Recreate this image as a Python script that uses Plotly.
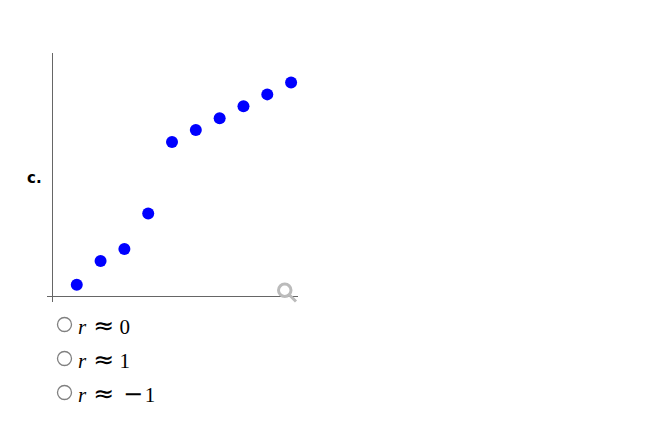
import plotly.graph_objects as go

x_vals = [1, 2, 3, 4, 5, 6, 7, 8, 9, 10]
y_vals = [1, 3, 4, 7, 13, 14, 15, 16, 17, 18]

# the approx sign and the minus come out too narrow in the serif font
approx = '<span style="font-family:DejaVu Sans;font-size:25px">≈</span>'
minus = '<span style="font-family:DejaVu Sans;font-size:24px">−</span>'
choices = [
    "<i>r</i>\u2004" + approx + "\u20050",
    "<i>r</i>\u2004" + approx + "\u20051",
    "<i>r</i>\u2004" + approx + "\u2004\u200a" + minus + "\u200a1",
]
label = "<b>c.</b>"

W = 650
H = 419
OFF = 8  # browser body margin

def px(v):
    return (v - OFF) / W

def py(v):
    return 1 - (v - OFF) / H

fig = go.Figure()
fig.add_trace(go.Scatter(x=x_vals, y=y_vals, mode="markers",
                         marker=dict(color="#0000ff", size=12), hoverinfo="skip"))

axis_line = dict(showgrid=False, showticklabels=False, ticks="", showline=False,
                 zeroline=True, zerolinecolor="#666666", zerolinewidth=1, fixedrange=True)
fig.update_xaxes(range=[-0.25, 10.29], domain=[px(47), px(298)], **axis_line)
fig.update_yaxes(range=[-0.46, 20.46], domain=[py(302.2), py(53.2)], **axis_line)

# magnifier icon
fig.add_shape(type="circle", xref="paper", yref="paper",
              x0=px(278.5), x1=px(291), y0=py(284), y1=py(296.5),
              line=dict(color="#bbbbbb", width=3))
fig.add_shape(type="line", xref="paper", yref="paper",
              x0=px(289.5), x1=px(296), y0=py(295), y1=py(301.5),
              line=dict(color="#bbbbbb", width=3))

# radio buttons and their labels
for i, text in enumerate(choices):
    cy = 324.5 + i * 34
    fig.add_shape(type="circle", xref="paper", yref="paper",
                  x0=px(57.5), x1=px(71.5), y0=py(cy - 7), y1=py(cy + 7),
                  line=dict(color="#808080", width=1.3), fillcolor="white")
    fig.add_annotation(x=px(76), y=py(cy + 0.5), xref="paper", yref="paper", text=text,
                       showarrow=False, xanchor="left", yanchor="middle",
                       font=dict(family="Liberation Serif", size=21, color="black"))

fig.add_annotation(x=px(24.5), y=py(177.5), xref="paper", yref="paper", text=label,
                   showarrow=False, xanchor="left", yanchor="middle",
                   font=dict(family="DejaVu Sans", size=15, color="black"))

fig.update_layout(width=W, height=H, margin=dict(l=0, r=0, t=0, b=0),
                  paper_bgcolor="white", plot_bgcolor="white", showlegend=False)
fig.write_html("out.html", config={"displayModeBar": False})
